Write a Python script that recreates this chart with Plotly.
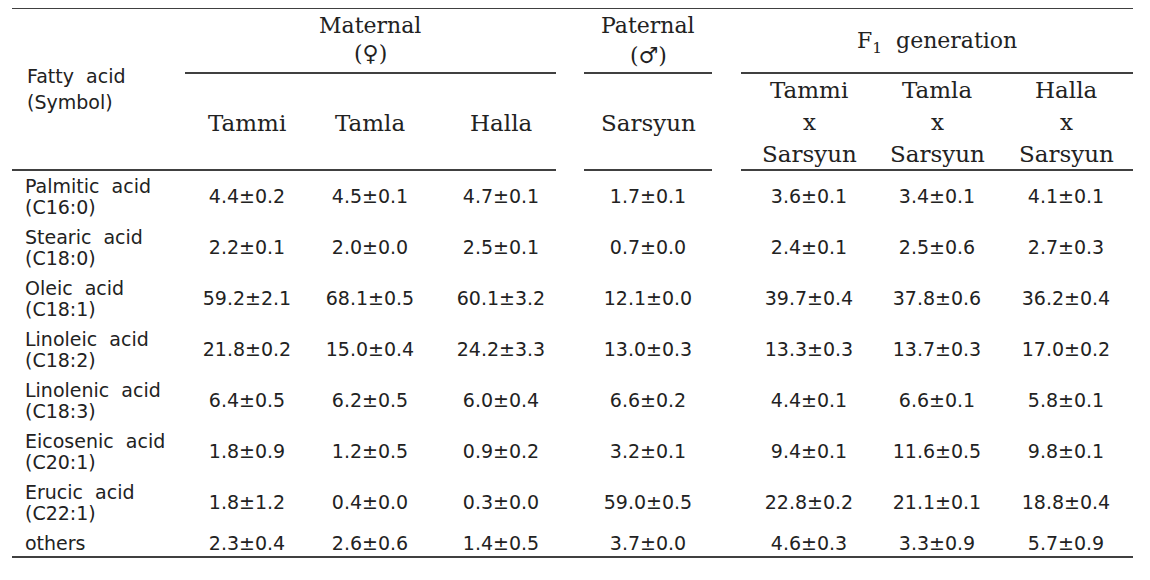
import plotly.graph_objects as go

# ---------------- data ----------------
acids = ["Palmitic  acid", "Stearic  acid", "Oleic  acid", "Linoleic  acid",
         "Linolenic  acid", "Eicosenic  acid", "Erucic  acid", "others"]
symbols = ["(C16:0)", "(C18:0)", "(C18:1)", "(C18:2)", "(C18:3)", "(C20:1)", "(C22:1)", ""]

tammi_mean = [4.4, 2.2, 59.2, 21.8, 6.4, 1.8, 1.8, 2.3]
tammi_sd = [0.2, 0.1, 2.1, 0.2, 0.5, 0.9, 1.2, 0.4]
tamla_mean = [4.5, 2.0, 68.1, 15.0, 6.2, 1.2, 0.4, 2.6]
tamla_sd = [0.1, 0.0, 0.5, 0.4, 0.5, 0.5, 0.0, 0.6]
halla_mean = [4.7, 2.5, 60.1, 24.2, 6.0, 0.9, 0.3, 1.4]
halla_sd = [0.1, 0.1, 3.2, 3.3, 0.4, 0.2, 0.0, 0.5]
sarsyun_mean = [1.7, 0.7, 12.1, 13.0, 6.6, 3.2, 59.0, 3.7]
sarsyun_sd = [0.1, 0.0, 0.0, 0.3, 0.2, 0.1, 0.5, 0.0]
tammi_x_mean = [3.6, 2.4, 39.7, 13.3, 4.4, 9.4, 22.8, 4.6]
tammi_x_sd = [0.1, 0.1, 0.4, 0.3, 0.1, 0.1, 0.2, 0.3]
tamla_x_mean = [3.4, 2.5, 37.8, 13.7, 6.6, 11.6, 21.1, 3.3]
tamla_x_sd = [0.1, 0.6, 0.6, 0.3, 0.1, 0.5, 0.1, 0.9]
halla_x_mean = [4.1, 2.7, 36.2, 17.0, 5.8, 9.8, 18.8, 5.7]
halla_x_sd = [0.1, 0.3, 0.4, 0.2, 0.1, 0.1, 0.4, 0.9]

columns = [
    (tammi_mean, tammi_sd),
    (tamla_mean, tamla_sd),
    (halla_mean, halla_sd),
    (sarsyun_mean, sarsyun_sd),
    (tammi_x_mean, tammi_x_sd),
    (tamla_x_mean, tamla_x_sd),
    (halla_x_mean, halla_x_sd),
]
sub_headers = [["Tammi"], ["Tamla"], ["Halla"], ["Sarsyun"],
               ["Tammi", "x", "Sarsyun"], ["Tamla", "x", "Sarsyun"], ["Halla", "x", "Sarsyun"]]

# ---------------- layout (pixel-like coordinates) ----------------
col_x = [247, 370, 501, 648, 809, 937, 1066]
row_y = [198, 249, 300, 351, 402, 453, 504, 545]
label_x = 25
OFF = 8  # page body margin

SANS = "DejaVu Sans"
SERIF = "DejaVu Serif"
TXT = "#222222"
VSIZE = 19

fig = go.Figure()

# values
for (m, s), x in zip(columns, col_x):
    fig.add_trace(go.Scatter(
        x=[x] * len(m), y=row_y, mode="text",
        text=[f"{a:.1f}±{b:.1f}" for a, b in zip(m, s)],
        textposition="middle center",
        textfont=dict(family=SANS, size=VSIZE, color=TXT),
        hoverinfo="skip", showlegend=False))

# row labels (name line and symbol line)
name_y = [y - 10 if sym else y for y, sym in zip(row_y, symbols)]
fig.add_trace(go.Scatter(
    x=[label_x] * len(acids), y=name_y, mode="text",
    text=acids, textposition="middle right",
    textfont=dict(family=SANS, size=VSIZE, color=TXT),
    hoverinfo="skip", showlegend=False))
sym_rows = [(y + 11, s) for y, s in zip(row_y, symbols) if s]
fig.add_trace(go.Scatter(
    x=[label_x] * len(sym_rows), y=[p[0] for p in sym_rows], mode="text",
    text=[p[1] for p in sym_rows], textposition="middle right",
    textfont=dict(family=SANS, size=VSIZE, color=TXT),
    hoverinfo="skip", showlegend=False))

ann = []
def A(text, x, y, fam=SERIF, size=22, xanchor="center"):
    ann.append(dict(text=text, x=x, y=y, xref="x", yref="y", showarrow=False,
                    xanchor=xanchor, yanchor="middle", align="left",
                    font=dict(family=fam, size=size, color=TXT)))

A("Maternal", 370, 25)
A("(♀)", 370, 53)
A("Paternal", 648, 25)
A("(♂)", 648, 55)
A("F<sub>1</sub>  generation", 937, 42)
A("Fatty  acid", label_x, 76, fam=SANS, size=VSIZE, xanchor="left")
A("(Symbol)", label_x, 102, fam=SANS, size=VSIZE, xanchor="left")
for h, x in zip(sub_headers, col_x):
    if len(h) == 1:
        A(h[0], x, 123, size=23)
    else:
        for line, y in zip(h, [90, 122, 154]):
            A(line, x, y, size=23)
fig.update_layout(annotations=ann)

# rules
def L(x0, x1, y):
    fig.add_shape(type="line", x0=x0, x1=x1, y0=y, y1=y, xref="x", yref="y",
                  line=dict(color="black", width=1.5))

L(12, 1133, 8)
L(185, 556, 73); L(584, 712, 73); L(741, 1133, 73)
L(12, 556, 170); L(584, 712, 170); L(741, 1133, 170)
L(12, 1133, 557)

fig.update_xaxes(range=[OFF, 1150 + OFF], visible=False, fixedrange=True)
fig.update_yaxes(range=[580 + OFF, OFF], visible=False, fixedrange=True)
fig.update_layout(width=1150, height=580, margin=dict(l=0, r=0, t=0, b=0),
                  plot_bgcolor="white", paper_bgcolor="white")

fig.write_html("out.html")
